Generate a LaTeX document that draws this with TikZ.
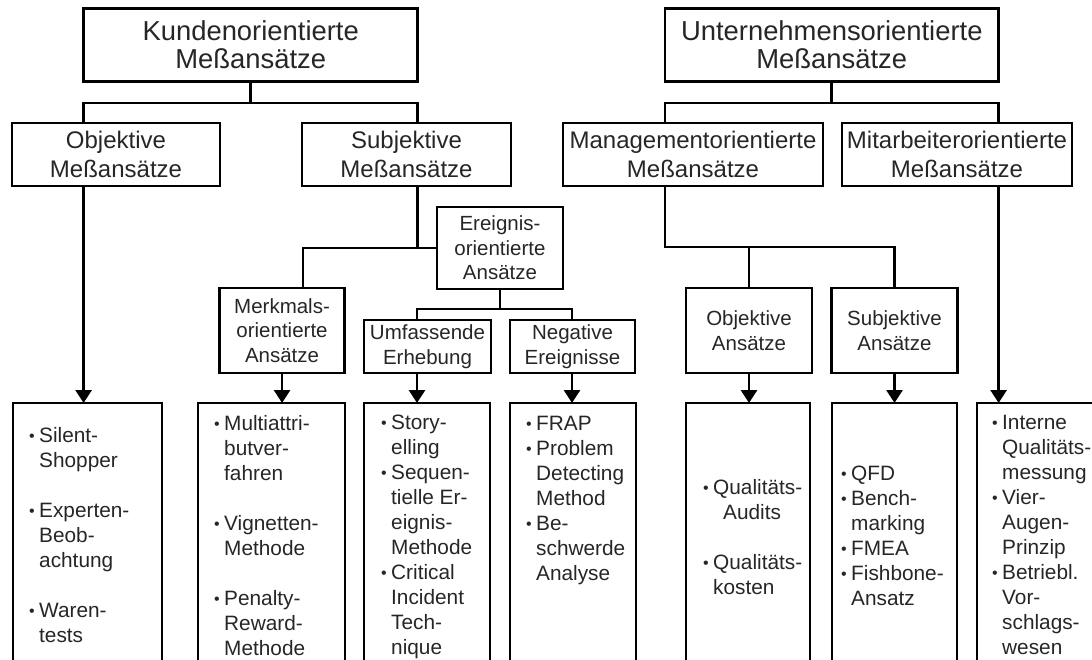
\documentclass[tikz,border=0pt]{standalone}
\usepackage{fontspec}
\setmainfont{Liberation Sans}
\usetikzlibrary{arrows.meta}
% bullet with hanging indent for the method lists
\newcommand\bul{\makebox[10pt][l]{\raisebox{0.8pt}{\fontsize{16}{16}\selectfont •}}}
\newcommand\ind{\hspace*{10pt}}

\begin{document}
\begin{tikzpicture}[x=1pt,y=-1pt,
  box/.style={draw, line width=2.8pt, rectangle, inner sep=0pt, outer sep=0pt,
              anchor=north west, align=center, text=black!85},
  lvA/.style={font=\fontsize{27.4}{28}\selectfont},
  lvB/.style={font=\fontsize{24}{28.5}\selectfont},
  lvC/.style={font=\fontsize{20.5}{24.5}\selectfont},
  list/.style={anchor=north west, inner sep=0pt, align=left, text=black!85,
               font=\fontsize{20.8}{25}\selectfont},
  link/.style={line width=2.8pt},
  arr/.style={line width=2.8pt, -{Triangle[width=16pt,length=13pt]}}]

\useasboundingbox (0,0) rectangle (1092,660);
\clip (0,0) rectangle (1092,660);

% ---------- top level ----------
\node[box, lvA, minimum width=334.2pt, minimum height=73pt] (K) at (83.6,8.5)
  {Kundenorientierte\\Meßansätze};
\node[box, lvA, minimum width=333.6pt, minimum height=73pt] (U) at (665,8.5)
  {Unternehmensorientierte\\Meßansätze};

% ---------- second level ----------
\node[box, lvB, minimum width=208pt, minimum height=63pt] (OM) at (12,123)
  {Objektive\\Meßansätze};
\node[box, lvB, minimum width=209pt, minimum height=63pt] (SM) at (302,123)
  {Subjektive\\Meßansätze};
\node[box, lvB, minimum width=260pt, minimum height=63pt] (MM) at (563,123)
  {Managementorientierte\\Meßansätze};
\node[box, lvB, minimum width=230pt, minimum height=63pt] (MA) at (842,123)
  {Mitarbeiterorientierte\\Meßansätze};

% ---------- third level ----------
\node[box, lvC, minimum width=126pt, minimum height=82pt] (E) at (437,207)
  {Ereignis-\\orientierte\\Ansätze};
\node[box, lvC, minimum width=125.3pt, minimum height=85pt] (Merk) at (219.4,288)
  {Merkmals-\\orientierte\\Ansätze};
\node[box, lvC, minimum width=127pt, minimum height=53pt] (Umf) at (364,320)
  {Umfassende\\Erhebung};
\node[box, lvC, minimum width=125pt, minimum height=53pt] (Neg) at (510,320)
  {Negative\\Ereignisse};
\node[box, lvC, minimum width=126pt, minimum height=85pt] (ObjA) at (686,288)
  {Objektive\\Ansätze};
\node[box, lvC, minimum width=126pt, minimum height=85pt] (SubA) at (831.5,288)
  {Subjektive\\Ansätze};

% ---------- method boxes (open at the bottom edge) ----------
\node[box, minimum width=149pt, minimum height=300pt] (B1) at (13,403) {};
\node[box, minimum width=147pt, minimum height=300pt] (B2) at (198,403) {};
\node[box, minimum width=126pt, minimum height=300pt] (B3) at (364,403) {};
\node[box, minimum width=126pt, minimum height=300pt] (B4) at (510,403) {};
\node[box, minimum width=124pt, minimum height=300pt] (B5) at (686,403) {};
\node[box, minimum width=125pt, minimum height=300pt] (B6) at (832,403) {};
\node[box, minimum width=200pt, minimum height=300pt] (B7) at (977,403) {};

\node[list] (t1) at (29,427)
  {\bul Silent-\\\ind Shopper\\[25pt]\bul Experten-\\\ind Beob-\\\ind achtung\\[25pt]\bul Waren-\\\ind tests};
\node[list] (t2) at (214,415)
  {\bul Multiattri-\\\ind butver-\\\ind fahren\\[25pt]\bul Vignetten-\\\ind Methode\\[25pt]\bul Penalty-\\\ind Reward-\\\ind Methode};
\node[list] (t3) at (381,415)
  {\bul Story-\\\ind elling\\\bul Sequen-\\\ind tielle Er-\\\ind eignis-\\\ind Methode\\\bul Critical\\\ind Incident\\\ind Tech-\\\ind nique};
\node[list] (t4) at (526,416)
  {\bul FRAP\\\bul Problem\\\ind Detecting\\\ind Method\\\bul Be-\\\ind schwerde\\\ind Analyse};
\node[list] (t5) at (703,479)
  {\bul Qualitäts-\\\ind\hspace*{10pt}Audits\\[25pt]\bul Qualitäts-\\\ind kosten};
\node[list] (t6) at (841,466)
  {\bul QFD\\\bul Bench-\\\ind marking\\\bul FMEA\\\bul Fishbone-\\\ind Ansatz};
\node[list] (t7) at (992,415)
  {\bul Interne\\\ind Qualitäts-\\\ind messung\\\bul Vier-\\\ind Augen-\\\ind Prinzip\\\bul Betriebl.\\\ind Vor-\\\ind schlags-\\\ind wesen};

% ---------- junction points ----------
\coordinate (kj) at (250.7,103);
\coordinate (uj) at (831.8,103);
\coordinate (mx) at (303,288);
\coordinate (ux) at (417,320);
\coordinate (nx) at (572,320);
\coordinate (mj) at (665,247);
\path (E.south) ++(0,20) coordinate (ej);

% ---------- customer side ----------
\draw[link] (K.south) -- (kj);
\draw[link] (K.west |- OM.north) |- (kj) -| (K.east |- SM.north);
\draw[arr] (K.west |- OM.south) -- (K.west |- B1.north);
\draw[link] (K.east |- SM.south) -- (K.east |- E.west);
\draw[link] (mx) |- (E.west);
\draw[arr] (Merk.south) -- (Merk.south |- B2.north);
\draw[link] (E.south) -- (ej);
\draw[link] (ux) |- (ej) -| (nx);
\draw[arr] (ux |- Umf.south) -- (ux |- B3.north);
\draw[arr] (nx |- Neg.south) -- (nx |- B4.north);

% ---------- company side ----------
\draw[link] (U.south) -- (uj);
\draw[link] (U.west |- MM.north) |- (uj) -| (U.east |- MA.north);
\draw[link] (U.west |- MM.south) -- (mj) -| (SubA.north);
\draw[link] (ObjA.north) -- (ObjA.north |- mj);
\draw[arr] (ObjA.south) -- (ObjA.south |- B5.north);
\draw[arr] (SubA.south) -- (SubA.south |- B6.north);
\draw[arr] (U.east |- MA.south) -- (U.east |- B7.north);
\end{tikzpicture}
\end{document}
